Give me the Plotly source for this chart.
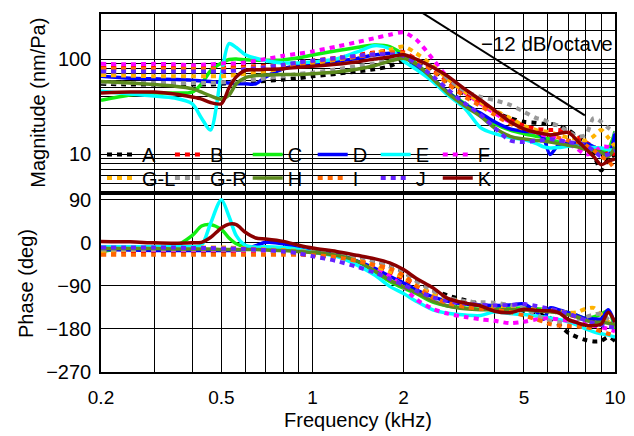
import plotly.graph_objects as go
import math

# ---------------- data ----------------
FREQ_KHZ = [0.2, 0.25, 0.3, 0.35, 0.4, 0.43, 0.46, 0.5, 0.53, 0.56,
            0.6, 0.65, 0.7, 0.8, 0.9, 1.0, 1.2, 1.4, 1.6, 1.8,
            2.0, 2.2, 2.5, 2.8, 3.2, 3.6, 4.0, 4.5, 5.0, 5.5,
            5.8, 6.1, 6.5, 7.0, 7.5, 8.0, 8.5, 9.0, 9.5, 10.0]

SERIES = ["A", "B", "C", "D", "E", "F", "G-L", "G-R", "H", "I", "J", "K"]

MAG_A = [55, 54, 54, 54, 54, 54, 54, 55, 56, 57,
         58, 58, 59, 61, 63, 66, 70, 74, 78, 84,
         97, 95, 78, 58, 42, 34, 28, 24, 22, 21.5,
         21, 21, 20, 18, 15.5, 13.5, 10, 6.8, 9, 10]
MAG_B = [81, 81, 81, 81, 81, 81, 81, 81, 82, 82,
         83, 84, 85, 88, 92, 96, 103, 110, 117, 122,
         118, 100, 78, 58, 43, 34, 28, 23, 20, 18.5,
         18.2, 18, 18, 17, 15, 13.5, 12, 11, 10.5, 10]
MAG_C = [37, 42, 44, 44, 45, 55, 75, 91, 99, 100,
         98, 97, 97, 98, 103, 110, 122, 132, 140, 135,
         112, 90, 62, 45, 34, 26, 21, 18, 16.5, 15.5,
         15, 14.5, 13.5, 13, 12.5, 12, 11.5, 11, 11.5, 17.5]
MAG_D = [66, 63, 62, 61, 60, 59, 58, 57, 56, 55,
         55, 55, 65, 79, 86, 90, 95, 101, 110, 115,
         110, 83, 62, 45, 33, 27, 22, 18.5, 17.5, 17,
         15, 10, 12.5, 13, 13.2, 13, 12, 10.5, 9.8, 17]
MAG_E = [46, 43, 41, 39, 34, 24, 18, 70, 145, 132,
         111, 102, 96, 91, 91, 93, 100, 118, 138, 128,
         95, 78, 58, 42, 30, 19, 16.5, 15, 14.3, 13,
         12, 11.7, 11.8, 12.2, 12.2, 12, 11.8, 11.7, 11.2, 11]
MAG_F = [89, 88, 89, 88, 86, 87, 88, 90, 90, 90,
         92, 96, 100, 108, 114, 120, 135, 150, 165, 180,
         190, 160, 100, 64, 44, 34, 27, 22, 19, 17,
         16, 15.5, 14.5, 13, 11.5, 10, 10.5, 12, 12, 11]
MAG_GL = [68, 67, 66, 66, 66, 66, 66, 66, 67, 68,
          70, 72, 74, 80, 85, 90, 98, 106, 115, 125,
          135, 115, 85, 62, 45, 35, 29, 24, 20, 18,
          17.5, 17, 16, 15, 14.5, 14, 15.5, 18, 15, 12]
MAG_GR = [57, 56, 56, 56, 56, 56, 56, 57, 58, 59,
          60, 61, 63, 66, 70, 72, 78, 84, 90, 98,
          105, 98, 82, 62, 46, 40, 37, 33, 28, 24,
          23, 21.5, 20, 17.5, 15.5, 16, 24, 22, 19, 17]
MAG_H = [58, 56, 54, 52, 49, 45, 41, 38, 42, 55,
         64, 67, 68, 69, 69, 70, 73, 78, 85, 95,
         102, 88, 62, 44, 32, 25, 19, 15.5, 14.5, 14,
         13.8, 13.5, 13, 12.5, 12, 11.3, 11, 10.5, 9.5, 12]
MAG_I = [79, 79, 79, 79, 79, 79, 79, 79, 79, 80,
         81, 82, 83, 86, 90, 94, 100, 106, 112, 118,
         115, 98, 75, 55, 40, 32, 26, 21, 18.5, 17,
         16.5, 16, 15, 14, 13.5, 12.5, 11, 9.5, 8.5, 7]
MAG_J = [74, 74, 74, 74, 74, 74, 74, 74, 75, 76,
         78, 80, 82, 87, 92, 96, 102, 108, 112, 112,
         108, 90, 66, 48, 34, 26, 19, 14, 13.5, 14,
         14.2, 14.5, 14, 13.5, 13, 12.5, 11, 9.5, 10, 11]
MAG_K = [44, 45, 45, 43, 40, 38, 35, 34, 50, 65,
         76, 77, 78, 79, 82, 84, 88, 93, 100, 105,
         111, 100, 82, 66, 48, 37, 29, 22, 18.5, 17,
         16.5, 16, 16.5, 17, 14, 11.5, 9.5, 7.8, 8.5, 9]

PH_A = [-12, -12, -12, -12, -12, -12, -13, -13, -13, -13,
        -14, -14, -15, -16, -18, -20, -22, -28, -38, -48,
        -60, -78, -98, -110, -120, -128, -133, -137, -142, -148,
        -152, -157, -170, -188, -197, -203, -206, -205, -197, -205]
PH_B = [-18, -18, -18, -18, -18, -18, -18, -18, -18, -18,
        -18, -19, -19, -20, -22, -24, -28, -36, -48, -62,
        -75, -90, -108, -118, -126, -132, -136, -138, -139, -141,
        -142, -143, -146, -150, -155, -160, -162, -165, -168, -170]
PH_C = [-18, -10, -8, -7, 15, 35, 38, 28, 10, -2,
        -8, -10, -12, -12, -15, -18, -24, -38, -60, -81,
        -95, -106, -124, -132, -136, -139, -138, -137, -136, -138,
        -139, -140, -142, -146, -152, -158, -155, -149, -142, -182]
PH_D = [-14, -15, -16, -16, -16, -16, -16, -16, -16, -15,
        -14, -6, 1, -2, -12, -19, -24, -38, -53, -70,
        -84, -98, -113, -122, -128, -130, -131, -130, -128, -145,
        -160, -136, -140, -146, -152, -158, -159, -159, -140, -170]
PH_E = [-8, -8, -8, -8, -8, -5, 40, 90, 55, 15,
        -5, -9, -8, -10, -14, -20, -28, -46, -67, -91,
        -106, -122, -140, -147, -151, -152, -144, -148, -150, -153,
        -155, -157, -160, -165, -172, -180, -186, -190, -193, -197]
PH_F = [-15, -15, -15, -15, -15, -15, -15, -15, -15, -16,
        -16, -16, -17, -18, -20, -22, -25, -35, -50, -70,
        -92, -118, -138, -148, -155, -160, -163, -168, -165, -160,
        -158, -158, -160, -163, -166, -170, -173, -176, -180, -185]
PH_GL = [-17, -15, -13, -12, -11, -10, -10, -10, -10, -11,
         -12, -13, -14, -15, -17, -20, -25, -35, -48, -60,
         -72, -88, -106, -116, -124, -130, -134, -137, -138, -139,
         -140, -141, -143, -146, -145, -138, -136, -150, -165, -175]
PH_GR = [-14, -14, -14, -14, -14, -14, -14, -14, -14, -14,
         -15, -15, -16, -17, -18, -20, -22, -28, -38, -50,
         -62, -80, -100, -115, -122, -124, -125, -130, -137, -150,
         -158, -163, -166, -165, -160, -155, -150, -148, -160, -170]
PH_H = [-12, -12, -12, -13, -13, -13, -13, -14, -14, -14,
        -14, -14, -15, -16, -18, -20, -26, -38, -58, -78,
        -92, -104, -122, -132, -138, -140, -140, -140, -140, -142,
        -143, -144, -146, -150, -155, -162, -166, -166, -168, -172]
PH_I = [-25, -25, -25, -25, -25, -25, -25, -25, -25, -25,
        -25, -25, -25, -25, -25, -26, -30, -38, -46, -54,
        -68, -90, -115, -126, -134, -138, -140, -145, -152, -160,
        -165, -170, -173, -174, -175, -176, -180, -185, -190, -194]
PH_J = [-10, -10, -10, -10, -11, -11, -11, -12, -12, -12,
        -13, -14, -15, -18, -22, -28, -38, -50, -62, -75,
        -88, -100, -114, -122, -127, -130, -131, -130, -128, -132,
        -135, -138, -142, -148, -155, -162, -168, -172, -175, -178]
PH_K = [3, 2, 0, -1, 0, 1, 11, 31, 39, 38,
        22, 10, 8, 3, -5, -11, -18, -26, -33, -42,
        -56, -74, -94, -116, -126, -132, -143, -146, -139, -141,
        -142, -142, -146, -160, -167, -172, -173, -170, -145, -166]

MAGS = [MAG_A, MAG_B, MAG_C, MAG_D, MAG_E, MAG_F, MAG_GL, MAG_GR, MAG_H, MAG_I, MAG_J, MAG_K]
PHASES = [PH_A, PH_B, PH_C, PH_D, PH_E, PH_F, PH_GL, PH_GR, PH_H, PH_I, PH_J, PH_K]

# reference slope line (-12 dB/octave)
SLOPE_F = [2.3, 7.95]
SLOPE_MAG = [307, 25.7]
SLOPE_LABEL = "\u221212 dB/octave"

X_GRID = [0.2, 0.3, 0.4, 0.5, 0.6, 0.7, 0.8, 0.9, 1, 2, 3, 4, 5, 6, 7, 8, 9, 10]
X_LABELS = ["0.2", "", "", "0.5", "", "", "", "", "1", "2", "", "", "5", "", "", "", "", "10"]
MAG_GRID = [5, 6, 7, 8, 9, 10, 20, 30, 40, 50, 60, 70, 80, 90, 100, 200, 300]
MAG_LABELS = ["", "", "", "", "", "10", "", "", "", "", "", "", "", "", "100", "", ""]
PH_TICKS = [-270, -180, -90, 0, 90]

# ---------------- styles ----------------
COLORS = ["#000000", "#ff0000", "#11ee11", "#0000ff", "#00ffff", "#ff00ff",
          "#ffb200", "#999999", "#5c8a1e", "#ff6600", "#6622ff", "#8b0000"]
DOTTED = [True, True, False, False, False, True, True, True, False, True, True, False]

FONT = "Liberation Sans, Arial, Helvetica, sans-serif"
FS = 20

W, H = 634, 436
ML, MR, MT, MB = 101, 11, 8, 62
PW, PH = W - ML - MR, H - MT - MB

def px_to_paper_x(px):
    return (px - ML) / PW

def px_to_paper_y(py):
    return (H - MB - py) / PH

# legend text positions (px) for each entry: columns / rows
LEG_TEXT_X = [142, 211, 290, 356, 420, 483]
LEG_ROW_Y = [151.7, 175.7]

fig = go.Figure()

for i, name in enumerate(SERIES):
    line = dict(color=COLORS[i], width=4 if DOTTED[i] else 3.5,
                dash="5px,5px" if DOTTED[i] else "solid", shape="spline", smoothing=0.8)
    leg = "legend" if i == 0 else f"legend{i + 1}"
    fig.add_trace(go.Scatter(x=FREQ_KHZ, y=MAGS[i], mode="lines", name=name,
                             line=line, xaxis="x", yaxis="y", legend=leg,
                             showlegend=True))
    fig.add_trace(go.Scatter(x=FREQ_KHZ, y=PHASES[i], mode="lines", name=name,
                             line=line, xaxis="x2", yaxis="y2", showlegend=False))

fig.add_trace(go.Scatter(x=SLOPE_F, y=SLOPE_MAG, mode="lines", showlegend=False,
                         line=dict(color="black", width=2), xaxis="x", yaxis="y"))

axis_common = dict(showline=True, mirror=True, linecolor="black", linewidth=1.5,
                   showgrid=True, gridcolor="black", gridwidth=1, zeroline=False,
                   ticks="")

TICKFONT = dict(family=FONT, size=FS, color="black")
XTICKFONT = dict(family=FONT, size=19, color="black")

layout = dict(
    width=W, height=H,
    margin=dict(l=ML, r=MR, t=MT, b=MB),
    paper_bgcolor="white", plot_bgcolor="white",
    font=dict(family=FONT, size=FS, color="black"),
    xaxis=dict(type="log", range=[math.log10(0.2), math.log10(10)], domain=[0, 1],
               anchor="y", tickmode="array", tickvals=X_GRID, ticktext=X_LABELS,
               showticklabels=False, tickfont=XTICKFONT, **axis_common),
    yaxis=dict(type="log", range=[0.613, 2.472], domain=[0.5046, 1], anchor="x",
               tickmode="array", tickvals=MAG_GRID, ticktext=MAG_LABELS,
               ticklabelstandoff=4, tickfont=TICKFONT,
               title=dict(text="Magnitude (nm/Pa)", font=dict(family=FONT, size=FS), standoff=7),
               **axis_common),
    xaxis2=dict(type="log", range=[math.log10(0.2), math.log10(10)], domain=[0, 1],
                anchor="y2", matches="x", tickmode="array", tickvals=X_GRID, ticktext=X_LABELS,
                ticklabelstandoff=7, tickfont=XTICKFONT,
                title=dict(text="Frequency (kHz)", font=dict(family=FONT, size=FS), standoff=6),
                **axis_common),
    yaxis2=dict(range=[-270, 100], domain=[0, 0.4945], anchor="x2",
                tickmode="array", tickvals=PH_TICKS,
                ticklabelstandoff=4, tickfont=TICKFONT,
                title=dict(text="Phase (deg)", font=dict(family=FONT, size=FS), standoff=7),
                **axis_common),
    annotations=[dict(text=SLOPE_LABEL, xref="paper", yref="paper",
                      x=1.0, y=px_to_paper_y(38), xanchor="right", yanchor="middle",
                      showarrow=False, font=dict(family=FONT, size=20.5, color="black"))],
)

for i in range(len(SERIES)):
    key = "legend" if i == 0 else f"legend{i + 1}"
    col, row = i % 6, i // 6
    layout[key] = dict(x=px_to_paper_x(LEG_TEXT_X[col] - 40), y=px_to_paper_y(LEG_ROW_Y[row]),
                       xanchor="left", yanchor="middle", bgcolor="rgba(0,0,0,0)",
                       borderwidth=0, font=dict(family=FONT, size=FS, color="black"),
                       orientation="h", tracegroupgap=0)

fig.update_layout(**layout)
fig.write_html("out.html")
